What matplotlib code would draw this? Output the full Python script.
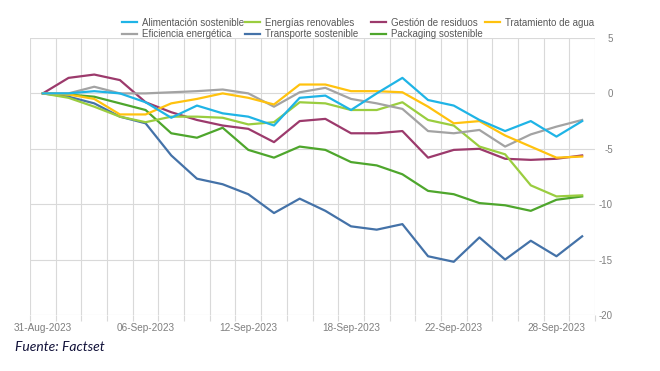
import matplotlib
matplotlib.use("Agg")
import matplotlib.pyplot as plt
import numpy as np

plt.rcParams["font.family"] = ["Liberation Sans", "DejaVu Sans"]

dates = ["31-Aug-2023", "01-Sep-2023", "04-Sep-2023", "05-Sep-2023", "06-Sep-2023",
         "07-Sep-2023", "08-Sep-2023", "11-Sep-2023", "12-Sep-2023", "13-Sep-2023",
         "14-Sep-2023", "15-Sep-2023", "18-Sep-2023", "19-Sep-2023", "20-Sep-2023",
         "21-Sep-2023", "22-Sep-2023", "25-Sep-2023", "26-Sep-2023", "27-Sep-2023",
         "28-Sep-2023", "29-Sep-2023"]
shown_labels = ["31-Aug-2023", "06-Sep-2023", "12-Sep-2023", "18-Sep-2023",
                "22-Sep-2023", "28-Sep-2023"]

alimentacion = [0, 0.0, 0.2, 0.0, -0.8, -2.2, -1.1, -1.8, -2.1, -2.9, -0.4,
                -0.2, -1.5, 0.0, 1.4, -0.6, -1.1, -2.4, -3.4, -2.5, -3.9, -2.5]
energias = [0, -0.4, -1.2, -2.1, -2.6, -2.1, -2.1, -2.2, -2.8, -2.6, -0.8,
            -0.9, -1.5, -1.5, -0.8, -2.4, -2.9, -4.8, -5.5, -8.3, -9.3, -9.2]
residuos = [0, 1.4, 1.7, 1.2, -0.8, -1.7, -2.4, -2.9, -3.2, -4.4, -2.5,
            -2.3, -3.6, -3.6, -3.4, -5.8, -5.1, -5.0, -5.9, -6.0, -5.9, -5.6]
agua = [0, -0.1, -0.5, -1.9, -1.9, -0.9, -0.5, 0.0, -0.4, -1.0, 0.8,
        0.8, 0.2, 0.2, 0.1, -1.2, -2.7, -2.5, -3.8, -4.8, -5.8, -5.7]
eficiencia = [0, 0.0, 0.6, 0.0, 0.0, 0.1, 0.2, 0.35, 0.0, -1.2, 0.1,
              0.5, -0.5, -0.9, -1.4, -3.4, -3.6, -3.3, -4.8, -3.7, -3.0, -2.4]
transporte = [0, -0.3, -0.9, -2.1, -2.7, -5.6, -7.7, -8.2, -9.1, -10.8, -9.5,
              -10.6, -12.0, -12.3, -11.8, -14.7, -15.2, -13.0, -15.0, -13.3, -14.7, -12.9]
packaging = [0, -0.1, -0.3, -0.9, -1.5, -3.6, -4.0, -3.1, -5.1, -5.8, -4.8,
             -5.1, -6.2, -6.5, -7.3, -8.8, -9.1, -9.9, -10.1, -10.6, -9.6, -9.3]

# legend columns as in the original (top row, bottom row)
series = [
    [("Alimentación sostenible", alimentacion, "#1fb4e6"),
     ("Eficiencia energética", eficiencia, "#a3a3a3")],
    [("Energías renovables", energias, "#9acd3f"),
     ("Transporte sostenible", transporte, "#4472a8")],
    [("Gestión de residuos", residuos, "#9c3a6c"),
     ("Packaging sostenible", packaging, "#4ea62c")],
    [("Tratamiento de agua", agua, "#ffc20e")],
]
col_x = [122, 245, 371, 485]  # legend column starts, px

fig = plt.figure(figsize=(6.6, 3.71), dpi=100)
ax = fig.add_axes([0.0455, 0.151, 0.856, 0.7466])

x = np.arange(len(dates))
# draw order so that the light lines sit on top like the original
draw = [(1, 1), (2, 1), (2, 0), (1, 0), (0, 1), (3, 0), (0, 0)]
handles = {}
for c, r in draw:
    name, vals, col = series[c][r]
    h, = ax.plot(x, vals, color=col, lw=1.6, label=name, solid_joinstyle="round")
    handles[(c, r)] = h

ax.set_xlim(-0.5, len(dates) - 0.5)
ax.set_ylim(-20, 5)
ax.set_yticks([5, 0, -5, -10, -15, -20])
ax.set_yticklabels(["5", "0", "-5", "-10", "-15", "-20"])
ax.yaxis.tick_right()
ax.tick_params(axis="y", length=0, pad=13, labelsize=7, labelcolor="#7f7f7f")
for lab in ax.get_yticklabels():
    lab.set_horizontalalignment("right")

ax.set_xticks([dates.index(d) for d in shown_labels])
ax.set_xticklabels(shown_labels)
ax.set_xticks(np.arange(-0.5, len(dates), 1.0), minor=True)
ax.tick_params(axis="x", which="major", length=0, pad=6, labelsize=7.2, labelcolor="#7f7f7f")
ax.tick_params(axis="x", which="minor", length=4, color="#d9d9d9", width=0.8)

ax.grid(axis="y", which="major", color="#d9d9d9", lw=0.8)
ax.grid(axis="x", which="minor", color="#d9d9d9", lw=0.8)
ax.set_axisbelow(True)
for s in ax.spines.values():
    s.set_visible(False)

for c, entries in enumerate(series):
    hs = [handles[(c, r)] for r in range(len(entries))]
    leg = fig.legend(hs, [e[0] for e in entries], loc="upper left",
                     bbox_to_anchor=(col_x[c] / 660, 0.952), frameon=False,
                     fontsize=7, handlelength=1.55, handletextpad=0.5,
                     labelspacing=0.15, borderpad=0, borderaxespad=0)
    for t in leg.get_texts():
        t.set_color("#595959")

fig.text(0.023, 0.053, "Fuente: Factset", fontsize=10, style="italic",
         family="Lato", color="#12123a")

fig.savefig("out.png", dpi=100)
